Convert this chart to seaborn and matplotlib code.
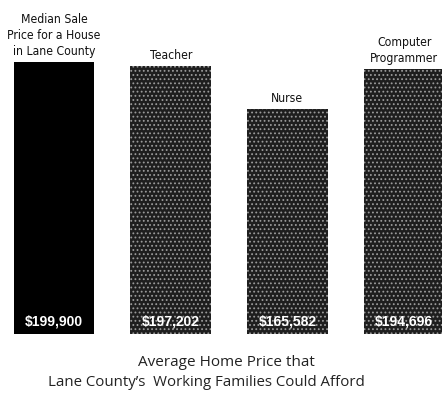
import matplotlib
matplotlib.use("Agg")
import matplotlib.pyplot as plt
import seaborn as sns

categories = ["Median Sale\nPrice for a House\nin Lane County", "Teacher", "Nurse", "Computer\nProgrammer"]
values = [199900, 197202, 165582, 194696]
value_labels = ["$199,900", "$197,202", "$165,582", "$194,696"]
caption_lines = ["Average Home Price that", "Lane County\u2019s  Working Families Could Afford"]

sns.set_theme(style="white")
plt.rcParams["font.family"] = ["DejaVu Sans"]
plt.rcParams["hatch.linewidth"] = 0.8

fig = plt.figure(figsize=(4.42, 3.93), dpi=100)
ax = fig.add_axes([0.0, 0.150, 1.0, 0.850])

colors = ["#000000", "#1e1e1e", "#1e1e1e", "#1e1e1e"]
sns.barplot(x=list(range(len(values))), y=values, hue=list(range(len(values))),
            palette=colors, legend=False, width=0.69, saturation=1, ax=ax)

# stippled fill for the occupation bars
for i, patch in enumerate(ax.patches):
    patch.set_linewidth(0)
    if i > 0:
        patch.set_edgecolor("#9a9a9a")
        patch.set_hatch("....")

ax.set_xlim(-0.463, 3.325)
ax.set_ylim(0, 245500)
ax.axis("off")

for i, (cat, v, lab) in enumerate(zip(categories, values, value_labels)):
    ax.annotate(cat, xy=(i, v), xytext=(0, 3), textcoords="offset points",
                ha="center", va="bottom", fontsize=8.7, linespacing=1.3,
                fontstretch="condensed", color="#111111")
    ax.annotate(lab, xy=(i, 0), xytext=(0, 9), textcoords="offset points",
                ha="center", va="center", fontsize=10, fontweight="bold",
                color="white", family=["Liberation Sans", "DejaVu Sans"])

fig.text(226 / 442, 1 - 363 / 393, caption_lines[0], ha="center", va="center",
         fontsize=11, color="#222222", family=["Open Sans", "DejaVu Sans"])
fig.text(206 / 442, 1 - 383 / 393, caption_lines[1], ha="center", va="center",
         fontsize=10.8, color="#222222", family=["Open Sans", "DejaVu Sans"])

fig.savefig("out.png", dpi=100, facecolor="white")
